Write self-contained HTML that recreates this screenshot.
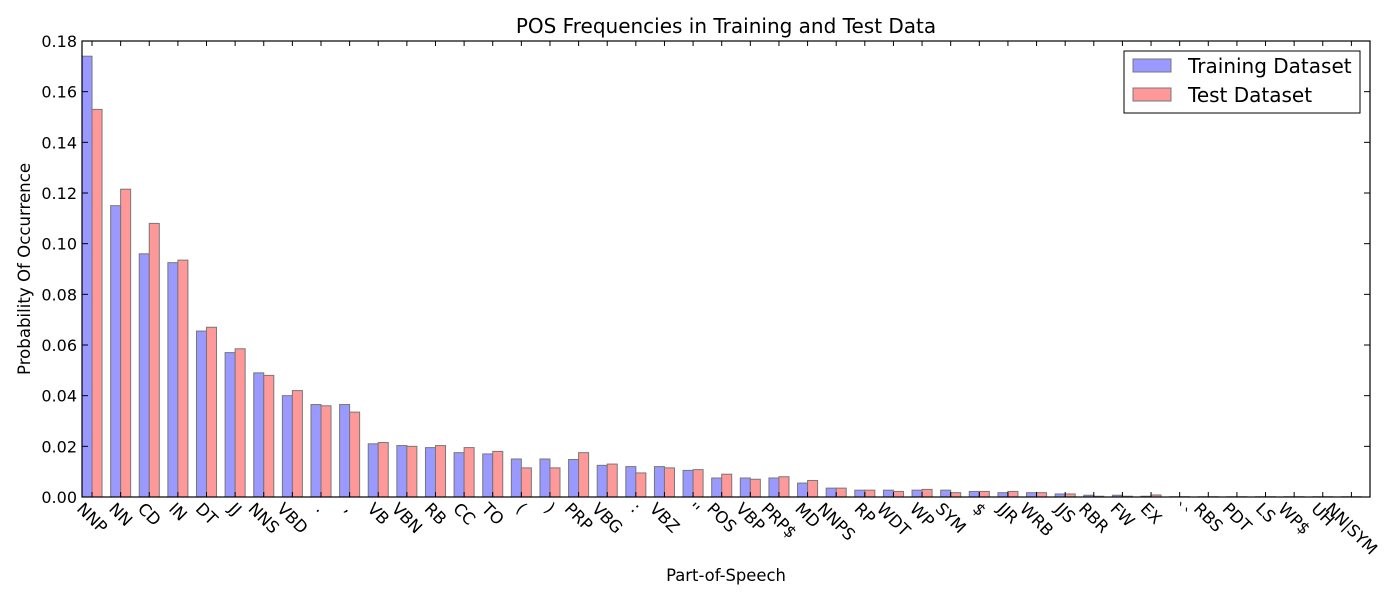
<!DOCTYPE html>
<html><head><meta charset="utf-8"><style>
body{margin:0;background:#fff;}
svg text{font-family:"DejaVu Sans","Liberation Sans",sans-serif;fill:#000;}
</style></head><body>
<svg id="chart" width="1400" height="600" xmlns="http://www.w3.org/2000/svg">
<rect width="1400" height="600" fill="#fff"/>
<text x="726" y="33" font-size="20" text-anchor="middle">POS Frequencies in Training and Test Data</text>
<g id="bars"></g>
<g id="axes"></g>
<text x="726" y="581" font-size="16.4" text-anchor="middle">Part-of-Speech</text>
<text transform="translate(30,269) rotate(-90)" font-size="16.6" text-anchor="middle">Probability Of Occurrence</text>
<g>
<rect x="1124" y="51" width="236" height="62" fill="#fff" stroke="#000" stroke-width="1"/>
<rect x="1133" y="59" width="38" height="13" fill="#9999ff" stroke="#777" stroke-width="1"/>
<text x="1188" y="73" font-size="20">Training Dataset</text>
<rect x="1133" y="88" width="38" height="13" fill="#ff9999" stroke="#777" stroke-width="1"/>
<text x="1188" y="102" font-size="20">Test Dataset</text>
</g>
</svg>
<script>
const categories=["NNP","NN","CD","IN","DT","JJ","NNS","VBD",".",",","VB","VBN","RB","CC","TO","(",")","PRP","VBG",":","VBZ","''","POS","VBP","PRP$","MD","NNPS","RP","WDT","WP","SYM","$","JJR","WRB","JJS","RBR","FW","EX","``","RBS","PDT","LS","WP$","UH","NN|SYM"];
const trainValues=[0.174,0.115,0.096,0.0925,0.0655,0.057,0.049,0.040,0.0365,0.0365,0.021,0.0203,0.0195,0.0175,0.017,0.015,0.015,0.0148,0.0125,0.012,0.012,0.0105,0.0075,0.0075,0.0075,0.0055,0.0035,0.0027,0.0027,0.0027,0.0027,0.0022,0.0017,0.0017,0.0012,0.0007,0.0007,0.0003,0.0001,0.0001,0.0001,0.0001,0.0001,0.0001,0.0001];
const testValues=[0.153,0.1215,0.108,0.0935,0.067,0.0585,0.048,0.042,0.036,0.0335,0.0215,0.020,0.0203,0.0195,0.018,0.0115,0.0115,0.0175,0.013,0.0095,0.0115,0.0108,0.009,0.007,0.008,0.0065,0.0035,0.0027,0.0022,0.003,0.0017,0.0022,0.0022,0.0017,0.0012,0.0003,0.0003,0.0008,0.0001,0.0001,0.0001,0.0001,0.0001,0.0001,0.0001];
const yTicks=[0,0.02,0.04,0.06,0.08,0.10,0.12,0.14,0.16,0.18];
const yTickLabels=["0.00","0.02","0.04","0.06","0.08","0.10","0.12","0.14","0.16","0.18"];

const NS="http://www.w3.org/2000/svg";
const L=82,R=1370,T=41,B=497,yMax=0.18;
const slot=(R-L)/categories.length, bw=slot*0.35;
const y=v=>B-(v/yMax)*(B-T);
const xs=i=>L+i*slot;
function mk(tag,attrs,parent){const e=document.createElementNS(NS,tag);for(const k in attrs)e.setAttribute(k,attrs[k]);parent.appendChild(e);return e;}
const bars=document.getElementById('bars'),axes=document.getElementById('axes');
const fs=16.5;
categories.forEach((c,i)=>{
  const r1=mk('rect',{x:xs(i),y:y(trainValues[i]),width:bw,height:B-y(trainValues[i]),fill:'#9999ff',stroke:'#777','stroke-width':1},bars);
  
  
  const r2=mk('rect',{x:xs(i)+bw,y:y(testValues[i]),width:bw,height:B-y(testValues[i]),fill:'#ff9999',stroke:'#777','stroke-width':1},bars);
  
  
  const tx=xs(i)+bw;
  mk('line',{x1:tx,x2:tx,y1:B,y2:B-5,stroke:'#000'},axes);
  mk('line',{x1:tx,x2:tx,y1:T,y2:T+5,stroke:'#000'},axes);
  const t=mk('text',{'font-size':fs,'text-anchor':'middle','dominant-baseline':'central'},axes);
  t.textContent=c;
  
  
  const len=t.getComputedTextLength();
  const cy=B+3+(len+fs)/(2*Math.SQRT2);
  t.setAttribute('transform',`translate(${tx},${cy}) rotate(45)`);
});
yTicks.forEach((v,i)=>{
  mk('line',{x1:L,x2:L+6,y1:y(v),y2:y(v),stroke:'#000'},axes);
  mk('line',{x1:R,x2:R-6,y1:y(v),y2:y(v),stroke:'#000'},axes);
  const t=mk('text',{x:L-5,y:y(v)+6,'font-size':16,'text-anchor':'end'},axes);
  t.textContent=yTickLabels[i];
  
  
});
const frame=mk('rect',{x:L,y:T,width:R-L,height:B-T,fill:'none',stroke:'#000','stroke-width':1.2},axes);


</script>
</body></html>
